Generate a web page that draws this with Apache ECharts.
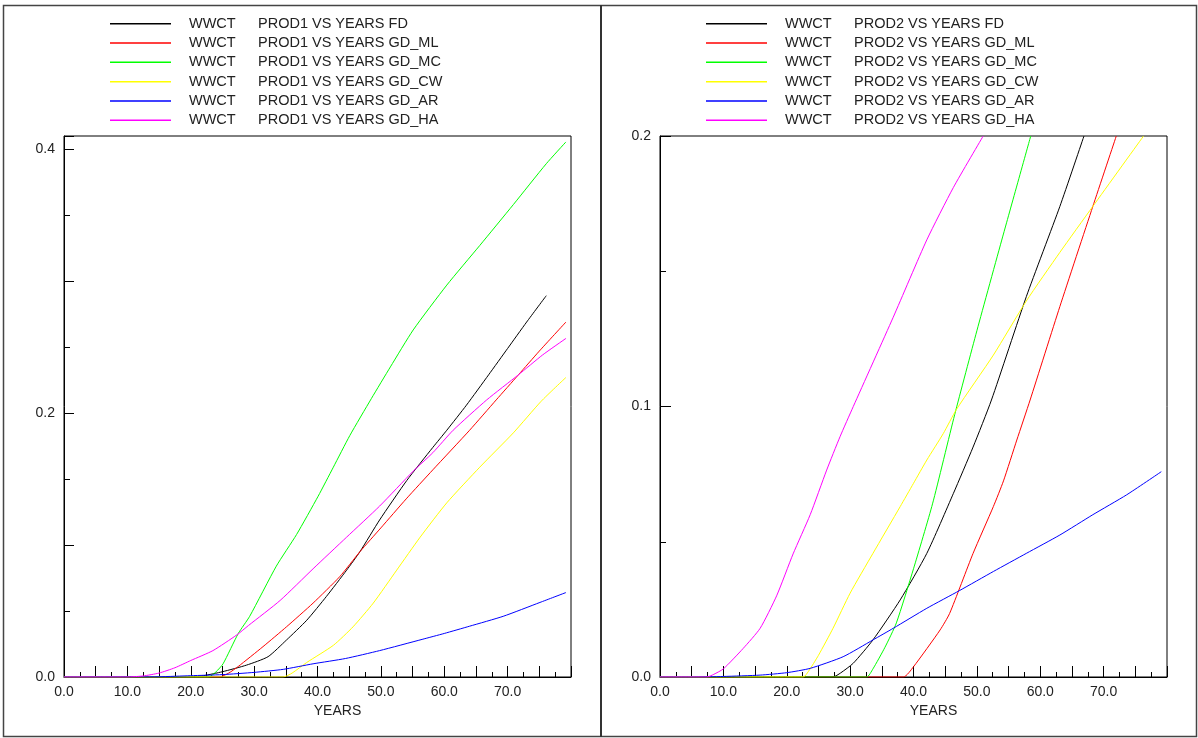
<!DOCTYPE html>
<html><head><meta charset="utf-8">
<script src="https://cdn.jsdelivr.net/npm/echarts@6/dist/echarts.min.js"></script>
<style>html,body{margin:0;padding:0;background:#fff}#c{width:1198px;height:738px}</style>
</head><body><div id="c"></div>
<script>
// ---- data (year, WWCT) ----
const caseNames = ['FD', 'GD_ML', 'GD_MC', 'GD_CW', 'GD_AR', 'GD_HA'];
const caseColors = ['#000000', '#ff0000', '#00ff00', '#ffff00', '#0000ff', '#ff00ff'];
const panelWells = ['PROD1', 'PROD2'];

const prod1_FD = [[0,0],[19.5,0],[22,0.001],[25,0.004],[28.8,0.009],[32.2,0.0154],[35.1,0.028],[38.3,0.043],[41.4,0.061],[44.6,0.081],[46.7,0.095],[49.8,0.119],[54.1,0.149],[58.2,0.174],[60.4,0.187],[63.5,0.206],[67,0.229],[70,0.249],[73,0.269],[76.1,0.289]];
const prod1_ML = [[0,0],[24.5,0],[26,0.003],[27.5,0.008],[31.4,0.023],[35.1,0.038],[39.3,0.056],[43.5,0.076],[46.7,0.095],[50,0.113],[54,0.135],[58.2,0.157],[64,0.187],[68.2,0.21],[71.7,0.229],[75,0.247],[79.2,0.269]];
const prod1_MC = [[0,0],[22.8,0],[24,0.004],[25.1,0.010],[27.5,0.033],[29.3,0.046],[33.5,0.084],[36.7,0.108],[40.1,0.137],[42.5,0.159],[45.1,0.183],[48.5,0.211],[51.5,0.235],[55.1,0.263],[60.4,0.297],[65.6,0.327],[70.9,0.358],[76.1,0.389],[79.2,0.4055]];
const prod1_CW = [[0,0],[34.6,0],[36,0.003],[38.3,0.011],[42.5,0.024],[45.6,0.038],[48.8,0.056],[52.5,0.081],[56.2,0.106],[60.4,0.132],[65.6,0.159],[70.9,0.185],[75.3,0.209],[79.2,0.227]];
const prod1_AR = [[0,0],[15,0.0002],[20,0.001],[25,0.0018],[30,0.0035],[34.6,0.0058],[39.3,0.0100],[44.4,0.014],[49.8,0.020],[56.5,0.0285],[60,0.033],[64,0.0385],[69.3,0.046],[75.1,0.0565],[79.2,0.064]];
const prod1_HA = [[0,0],[10,0],[12.5,0.0008],[15,0.003],[17.5,0.007],[20,0.0125],[23.5,0.020],[27.3,0.032],[29.1,0.039],[34.1,0.058],[39.3,0.082],[44.6,0.106],[49.8,0.1295],[55.1,0.156],[58.2,0.170],[61.4,0.187],[66.7,0.21],[71.7,0.229],[75.5,0.244],[79.2,0.2566]];

const prod2_FD = [[0,0],[27.3,0],[28.5,0.0015],[30.5,0.0051],[33.6,0.0137],[37.9,0.0285],[42.1,0.0457],[46.3,0.0679],[49.4,0.085],[52.3,0.1024],[57.8,0.1406],[63.1,0.174],[66.9,0.2]];
const prod2_ML = [[0,0],[38.4,0],[40,0.0038],[44.2,0.0174],[45.7,0.0235],[49.4,0.0457],[52.6,0.063],[54.2,0.0725],[56.3,0.0876],[58.4,0.1024],[63.1,0.137],[68.3,0.174],[72,0.2]];
const prod2_MC = [[0,0],[32.6,0],[33.6,0.003],[35.5,0.011],[37.3,0.020],[40,0.040],[43,0.064],[46.5,0.097],[50,0.128],[54.1,0.163],[58.5,0.2]];
const prod2_CW = [[0,0],[22.6,0],[23.4,0.002],[25,0.008],[27.3,0.018],[30,0.031],[33.6,0.0457],[37.9,0.063],[40,0.0716],[42.1,0.0802],[44.7,0.090],[46.8,0.099],[52.6,0.119],[57.8,0.139],[63.1,0.157],[68.3,0.174],[76.3,0.2]];
const prod2_AR = [[0,0],[5,0],[10,0.0002],[15.8,0.0007],[20,0.0016],[23.7,0.0032],[28.9,0.0075],[33.6,0.0137],[36.8,0.018],[42.1,0.0254],[47.3,0.032],[52.6,0.039],[57.8,0.0457],[63.1,0.0525],[68.3,0.060],[73.6,0.0673],[79.1,0.0759]];
const prod2_HA = [[0,0],[7.4,0],[8.5,0.001],[10,0.003],[13.1,0.0105],[15.8,0.018],[18.4,0.030],[21,0.0455],[23.7,0.0600],[26.3,0.0765],[28.4,0.0888],[30.5,0.100],[36.8,0.133],[42.1,0.1616],[46.3,0.181],[51,0.2]];

const panelData = [
  [prod1_FD, prod1_ML, prod1_MC, prod1_CW, prod1_AR, prod1_HA],
  [prod2_FD, prod2_ML, prod2_MC, prod2_CW, prod2_AR, prod2_HA]
];
const yMax = [0.41, 0.2];

// ---- chart ----
const FONT = 'Liberation Sans';
const FS = 14;
const LFS = 14.5;
const TXT = '#222';
const chart = echarts.init(document.getElementById('c'), null, {renderer: 'canvas'});

const grids = [
  {left: 64, top: 136, width: 507, height: 541, show: true, borderColor: '#000', borderWidth: 1},
  {left: 660, top: 136, width: 507, height: 541, show: true, borderColor: '#000', borderWidth: 1}
];

const xAxes = [0, 1].map(g => ({
  type: 'value', gridIndex: g, min: 0, max: 80, interval: 5,
  name: 'YEARS', nameLocation: 'middle', nameGap: 25,
  nameTextStyle: {fontFamily: FONT, fontSize: FS, color: TXT, padding: [0, 0, 0, 40], verticalAlign: 'top'},
  axisLine: {lineStyle: {color: '#000', width: 1}},
  axisTick: {inside: true, length: 11, lineStyle: {color: '#000'}},
  minorTick: {show: true, splitNumber: 2, length: 5, lineStyle: {color: '#000'}},
  splitLine: {show: false}, minorSplitLine: {show: false},
  axisLabel: {fontFamily: FONT, fontSize: FS, color: TXT, margin: 8,
    formatter: v => (Math.abs(v % 10) < 1e-9 && v < 79) ? v.toFixed(1) : ''}
}));

const yAxes = [
  {type: 'value', gridIndex: 0, min: 0, max: yMax[0], interval: 0.1,
   axisLine: {show: true, lineStyle: {color: '#000'}},
   axisTick: {show: true, inside: true, length: 10, lineStyle: {color: '#000'}},
   splitLine: {show: false},
   axisLabel: {fontFamily: FONT, fontSize: FS, color: TXT, margin: 9,
     formatter: v => (v < 0.405 && Math.abs(v / 0.2 - Math.round(v / 0.2)) < 1e-6) ? v.toFixed(1) : ''}},
  {type: 'value', gridIndex: 0, min: 0, max: yMax[0], interval: 0.05, position: 'left',
   axisLine: {show: false}, axisLabel: {show: false}, splitLine: {show: false},
   axisTick: {show: true, inside: true, length: 6, lineStyle: {color: '#000'}}},
  {type: 'value', gridIndex: 1, min: 0, max: yMax[1], interval: 0.1,
   axisLine: {show: true, lineStyle: {color: '#000'}},
   axisTick: {show: true, inside: true, length: 11, lineStyle: {color: '#000'}},
   minorTick: {show: true, splitNumber: 2, length: 6, lineStyle: {color: '#000'}},
   splitLine: {show: false}, minorSplitLine: {show: false},
   axisLabel: {fontFamily: FONT, fontSize: FS, color: TXT, margin: 9, formatter: v => v.toFixed(1)}}
];

const series = [];
const legends = [];
panelWells.forEach((well, p) => {
  const names = caseNames.map(c => 'WWCT ' + well + ' VS YEARS ' + c);
  names.forEach((nm, i) => {
    series.push({
      type: 'line', name: nm, xAxisIndex: p, yAxisIndex: p === 0 ? 0 : 2,
      data: panelData[p][i], symbol: 'none', smooth: 0.2, clip: true,
      lineStyle: {color: caseColors[i], width: 1}, itemStyle: {color: caseColors[i]},
      emphasis: {disabled: true}, animation: false
    });
  });
  legends.push({
    data: names, orient: 'vertical', left: p === 0 ? 105 : 701, top: 9,
    itemWidth: 61, itemHeight: 1.5, itemGap: 0, icon: 'rect',
    selectedMode: false,
    formatter: name => {
      const rest = name.slice(5);
      return '{a|WWCT}{b|' + rest + '}';
    },
    textStyle: {
      fontFamily: FONT, fontSize: LFS, color: TXT, lineHeight: 19.33,
      rich: {
        a: {fontFamily: FONT, fontSize: LFS, color: TXT, lineHeight: 19.33, width: 69, padding: [0, 0, 0, 13]},
        b: {fontFamily: FONT, fontSize: LFS, color: TXT, lineHeight: 19.33}
      }
    }
  });
});

chart.setOption({
  animation: false,
  backgroundColor: '#fff',
  grid: grids,
  xAxis: xAxes,
  yAxis: yAxes,
  legend: legends,
  series: series,
  graphic: [
    {type: 'rect', shape: {x: 3.5, y: 5.5, width: 1193, height: 731}, style: {fill: null, stroke: '#444', lineWidth: 1.5}, silent: true},
    {type: 'line', shape: {x1: 601, y1: 5, x2: 601, y2: 737}, style: {stroke: '#333', lineWidth: 2}, silent: true}
  ]
});
</script></body></html>
